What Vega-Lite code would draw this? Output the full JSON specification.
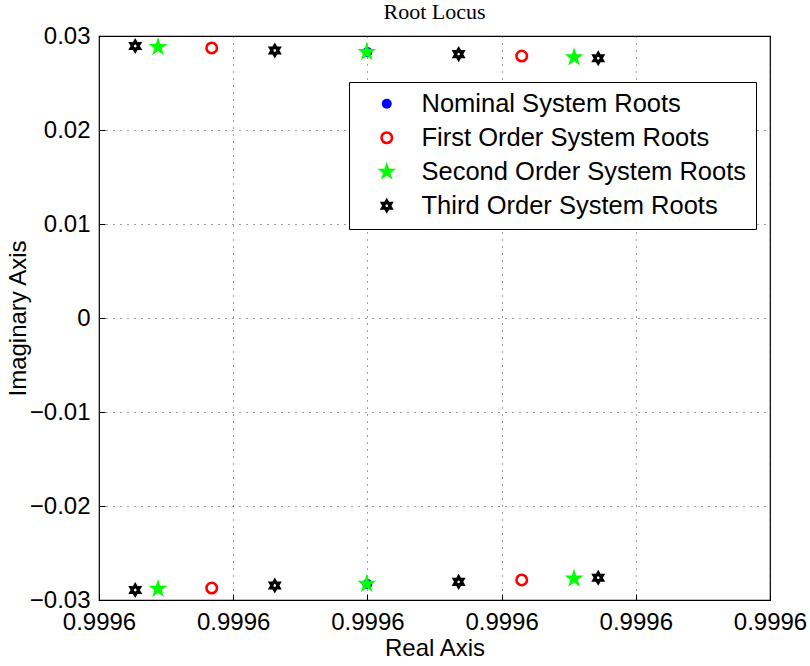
{
  "$schema": "https://vega.github.io/schema/vega-lite/v6.json",
  "width": 671,
  "height": 564,
  "autosize": "none",
  "padding": {"left": 99, "top": 36, "right": 40, "bottom": 66},
  "background": "#ffffff",
  "title": {"text": "Root Locus", "font": "Liberation Serif", "fontSize": 22, "fontWeight": "normal", "color": "#000000", "anchor": "middle", "offset": 0},
  "config": {
    "view": {"stroke": "#000000", "strokeWidth": 1.2},
    "axis": {
      "labelFont": "Liberation Sans", "labelFontSize": 24, "labelColor": "#000000",
      "titleFont": "Liberation Sans", "titleFontSize": 24, "titleFontWeight": "normal", "titleColor": "#000000",
      "domain": false, "gridColor": "#000000", "gridDash": [1, 6], "gridOpacity": 0.75, "gridWidth": 1,
      "tickColor": "#000000", "tickSize": -6, "tickWidth": 1
    }
  },
  "data": {"values": [
    {"series": "Nominal System Roots", "re": 0.99960, "im": 0.02829},
    {"series": "Nominal System Roots", "re": 0.99960, "im": -0.02829},
    {"series": "First Order System Roots", "re": 0.9995884, "im": 0.02873},
    {"series": "First Order System Roots", "re": 0.9995884, "im": -0.02873},
    {"series": "First Order System Roots", "re": 0.9996115, "im": 0.02787},
    {"series": "First Order System Roots", "re": 0.9996115, "im": -0.02787},
    {"series": "Second Order System Roots", "re": 0.9995844, "im": 0.02882},
    {"series": "Second Order System Roots", "re": 0.9995844, "im": -0.02882},
    {"series": "Second Order System Roots", "re": 0.99959995, "im": 0.02829},
    {"series": "Second Order System Roots", "re": 0.99959995, "im": -0.02829},
    {"series": "Second Order System Roots", "re": 0.9996154, "im": 0.02773},
    {"series": "Second Order System Roots", "re": 0.9996154, "im": -0.02773},
    {"series": "Third Order System Roots", "re": 0.9995827, "im": 0.02893},
    {"series": "Third Order System Roots", "re": 0.9995827, "im": -0.02893},
    {"series": "Third Order System Roots", "re": 0.9995931, "im": 0.02846},
    {"series": "Third Order System Roots", "re": 0.9995931, "im": -0.02846},
    {"series": "Third Order System Roots", "re": 0.9996068, "im": 0.02807},
    {"series": "Third Order System Roots", "re": 0.9996068, "im": -0.02807},
    {"series": "Third Order System Roots", "re": 0.9996172, "im": 0.02763},
    {"series": "Third Order System Roots", "re": 0.9996172, "im": -0.02763}
  ]},
  "mark": {"type": "point", "filled": true, "opacity": 1},
  "encoding": {
    "x": {"field": "re", "type": "quantitative",
          "scale": {"domain": [0.99958, 0.99963], "nice": false, "zero": false},
          "axis": {"values": [0.99958, 0.99959, 0.99960, 0.99961, 0.99962, 0.99963], "format": ".4f", "title": "Real Axis", "grid": true, "labelPadding": 16, "titlePadding": 2, "labelFlush": false}},
    "y": {"field": "im", "type": "quantitative",
          "scale": {"domain": [-0.03, 0.03], "nice": false, "zero": false},
          "axis": {"values": [-0.03, -0.02, -0.01, 0, 0.01, 0.02, 0.03], "format": ".2~f", "title": "Imaginary Axis", "grid": true, "labelPadding": 15, "titlePadding": -1, "labelFlush": false}},
    "shape": {"field": "series", "type": "nominal",
              "scale": {"domain": ["Nominal System Roots", "First Order System Roots", "Second Order System Roots", "Third Order System Roots"],
                        "range": ["circle", "circle", "M0,-1L0.2245,-0.309L0.951,-0.309L0.3633,0.118L0.588,0.809L0,0.382L-0.588,0.809L-0.3633,0.118L-0.951,-0.309L-0.2245,-0.309Z", "M0,-1L0.289,-0.5L0.866,-0.5L0.577,0L0.866,0.5L0.289,0.5L0,1L-0.289,0.5L-0.866,0.5L-0.577,0L-0.866,-0.5L-0.289,-0.5ZM0,-0.18L-0.15,-0.09L-0.15,0.09L0,0.18L0.15,0.09L0.15,-0.09Z"]},
              "legend": {"orient": "none", "legendX": 250, "legendY": 46, "title": null,
                         "labelFont": "Liberation Sans", "labelFontSize": 25.5, "labelColor": "#000000",
                         "strokeColor": "#000000", "fillColor": "#ffffff", "padding": 9, "rowPadding": 7,
                         "symbolOffset": 16, "labelOffset": 22, "labelLimit": 500}},
    "fill": {"field": "series", "type": "nominal",
             "scale": {"domain": ["Nominal System Roots", "First Order System Roots", "Second Order System Roots", "Third Order System Roots"],
                       "range": ["#0000ff", "transparent", "#00ff00", "#000000"]}},
    "stroke": {"field": "series", "type": "nominal",
               "scale": {"domain": ["Nominal System Roots", "First Order System Roots", "Second Order System Roots", "Third Order System Roots"],
                         "range": ["#0000ff", "#ff0000", "#00ff00", "#000000"]}},
    "strokeWidth": {"field": "series", "type": "nominal",
                    "scale": {"type": "ordinal", "domain": ["Nominal System Roots", "First Order System Roots", "Second Order System Roots", "Third Order System Roots"],
                              "range": [0, 2.6, 0, 0]}},
    "size": {"field": "series", "type": "nominal",
             "scale": {"type": "ordinal", "domain": ["Nominal System Roots", "First Order System Roots", "Second Order System Roots", "Third Order System Roots"],
                       "range": [100, 110, 400, 260]}}
  }
}
